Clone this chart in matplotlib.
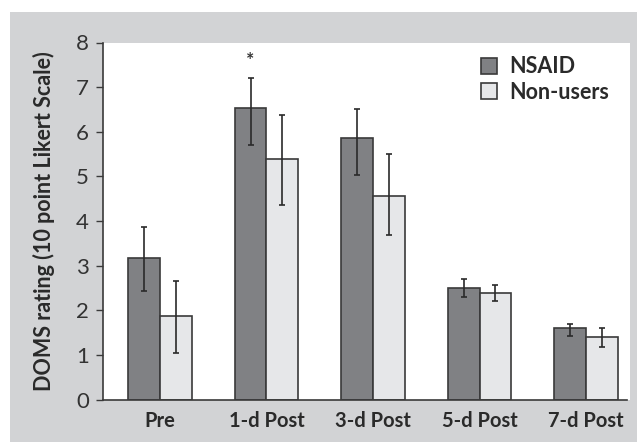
import matplotlib
matplotlib.use("Agg")
import matplotlib.pyplot as plt
import numpy as np
from matplotlib.patches import Rectangle

# values
days = ["Pre", "1-d Post", "3-d Post", "5-d Post", "7-d Post"]
nsaid = [3.17, 6.54, 5.85, 2.50, 1.61]
nsaid_hi = [3.87, 7.21, 6.51, 2.70, 1.70]
nsaid_lo = [2.43, 5.70, 5.04, 2.30, 1.42]
nonusers = [1.88, 5.39, 4.57, 2.38, 1.39]
nonusers_hi = [2.66, 6.38, 5.50, 2.57, 1.60]
nonusers_lo = [1.05, 4.35, 3.69, 2.21, 1.18]
y_ticks = [0, 1, 2, 3, 4, 5, 6, 7, 8]

plt.rcParams["font.family"] = ["Lato", "DejaVu Sans"]

fig = plt.figure(figsize=(6.38, 4.42), dpi=100, facecolor="white")
# grey panel behind the plot
fig.patches.append(Rectangle((10 / 638, 0), 627 / 638, 1 - 12 / 442,
                             transform=fig.transFigure, facecolor="#d2d3d5",
                             edgecolor="none", zorder=-5))
ax = fig.add_axes([103 / 638, 1 - 399.5 / 442, 527 / 638, 357 / 442])
ax.set_facecolor("white")

x = np.arange(len(days))
w = 0.30
edge = "#3a3a3a"
n = np.array(nsaid)
u = np.array(nonusers)
ax.bar(x - w / 2, n, w, color="#808184", edgecolor=edge, linewidth=1.2,
       label="NSAID", zorder=2)
ax.bar(x + w / 2, u, w, color="#e6e7e9", edgecolor=edge, linewidth=1.2,
       label="Non-users", zorder=2)
ax.errorbar(x - w / 2, n, yerr=[n - np.array(nsaid_lo), np.array(nsaid_hi) - n],
            fmt="none", ecolor="#2a2a2a", elinewidth=1.2, capsize=2.5,
            capthick=1.2, zorder=3)
ax.errorbar(x + w / 2, u, yerr=[u - np.array(nonusers_lo), np.array(nonusers_hi) - u],
            fmt="none", ecolor="#2a2a2a", elinewidth=1.2, capsize=2.5,
            capthick=1.2, zorder=3)
ax.text(x[1] - w / 2, 7.6, "*", ha="center", va="center", fontsize=14,
        fontweight="bold", color="#333333")

ax.set_xlim(-0.535, 4.413)
ax.set_ylim(0, 8)
ax.set_yticks(y_ticks)
ax.set_yticklabels([str(t) for t in y_ticks], fontsize=16, color="#333333")
ax.set_xticks(x)
ax.set_xticklabels(days, fontsize=14.5, fontweight="bold", color="#2a2a2a")
ax.tick_params(axis="x", length=0, pad=8)
ax.tick_params(axis="y", length=5, width=1, color=edge, pad=5)
for s in ("top", "right"):
    ax.spines[s].set_visible(False)
for s in ("left", "bottom"):
    ax.spines[s].set_color(edge)
    ax.spines[s].set_linewidth(1.2)
ax.spines["bottom"].set_bounds(-0.535, 4.385)
ax.set_ylabel("DOMS rating (10 point Likert Scale)", fontsize=15.5,
              fontweight="bold", color="#2a2a2a", labelpad=15)

leg = ax.legend(loc="upper left", bbox_to_anchor=(0.70, 0.985), frameon=False,
                handlelength=0.75, handleheight=0.75,
                handletextpad=0.6, labelspacing=0.2, borderaxespad=0,
                prop={"weight": "bold", "size": 15.5})
for t in leg.get_texts():
    t.set_color("#2a2a2a")

fig.savefig("out.png", dpi=100, facecolor=fig.get_facecolor())
